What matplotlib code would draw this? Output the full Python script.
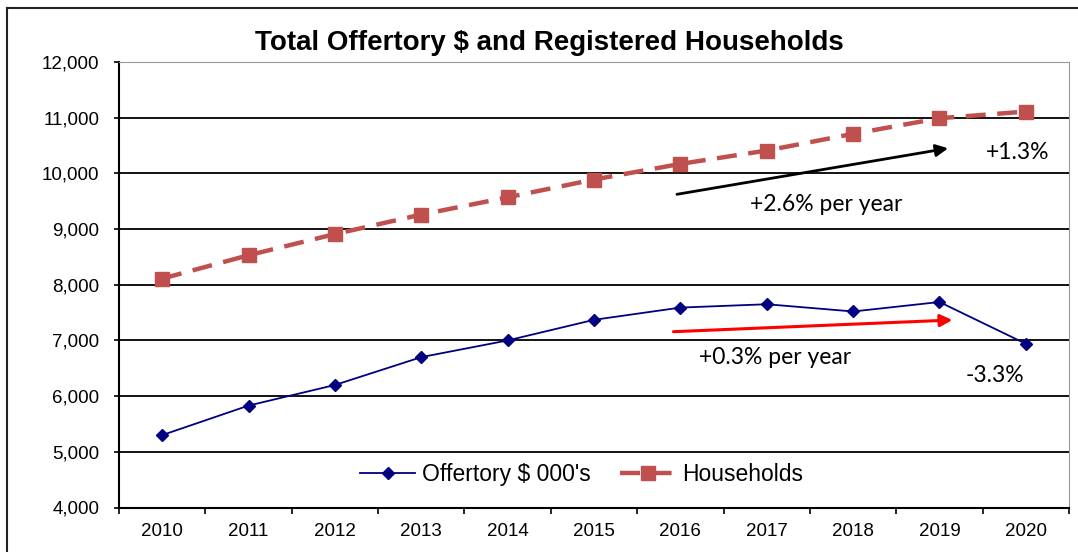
import numpy as np
import matplotlib.pyplot as plt
from matplotlib.lines import Line2D

# data
years = [2010, 2011, 2012, 2013, 2014, 2015, 2016, 2017, 2018, 2019, 2020]
offertory = [5300, 5830, 6200, 6700, 7000, 7370, 7590, 7650, 7520, 7690, 6940]
households = [8110, 8530, 8910, 9260, 9570, 9890, 10170, 10410, 10710, 10990, 11110]
y_ticks = [4000, 5000, 6000, 7000, 8000, 9000, 10000, 11000, 12000]

W, H = 1078, 552
fig = plt.figure(figsize=(W / 100, H / 100), dpi=100)
ax = fig.add_axes([119 / W, 1 - 507.5 / H, (1069 - 119) / W, (507.5 - 62) / H])

# outer chart border (only top and left edges are visible in the crop)
top = 1 - 8 / H
left = 7 / W
fig.add_artist(Line2D([left, 1.0], [top, top], transform=fig.transFigure,
                      color='#222222', linewidth=1.5))
fig.add_artist(Line2D([left, left], [0.0, top], transform=fig.transFigure,
                      color='#222222', linewidth=1.5))

x = np.arange(len(years))
ax.plot(x, offertory, color='#000080', linewidth=1.3, marker='D', markersize=6,
        label="Offertory $ 000's")
ax.plot(x, households, color='#C0504D', linewidth=3.2, dashes=(4.5, 2.6),
        marker='s', markersize=10, label='Households')

ax.set_xlim(-0.5, len(years) - 0.5)
ax.set_ylim(4000, 12000)
ax.set_yticks(y_ticks)
ax.set_yticklabels([f'{v:,}' for v in y_ticks], fontsize=13.5, family='Liberation Sans')
ax.set_xticks(x)
ax.set_xticklabels([str(y) for y in years], fontsize=13.5, family='Liberation Sans')
ax.set_xticks(np.arange(-0.5, len(years), 1), minor=True)
ax.tick_params(axis='x', which='major', length=0, pad=11)
ax.tick_params(axis='x', which='minor', length=4.3, width=1.2, direction='out')
ax.tick_params(axis='y', length=3.6, width=1.2, direction='out', pad=10.5)
ax.grid(axis='y', color='black', linewidth=1.3)
ax.set_axisbelow(True)

for s in ['top', 'right']:
    ax.spines[s].set_color('#999999')
ax.spines['left'].set_linewidth(1.5)
ax.spines['bottom'].set_linewidth(1.5)

fig.text(549 / W, 1 - 43 / H, 'Total Offertory $ and Registered Households',
         fontsize=20, fontweight='bold', family='Liberation Sans',
         ha='center', va='center')

# trend arrows and notes
ax.annotate('', xy=(9.10, 10450), xytext=(5.96, 9624),
            arrowprops=dict(arrowstyle='-|>', color='black', lw=2,
                            mutation_scale=18, shrinkA=0, shrinkB=0))
ax.annotate('', xy=(9.15, 7367), xytext=(5.92, 7157),
            arrowprops=dict(arrowstyle='-|>', color='red', lw=2.2,
                            mutation_scale=18, shrinkA=0, shrinkB=0))
note_font = dict(fontsize=16.5, family='Lato', ha='center', va='baseline')
ax.text(7.69, 9329, '+2.6% per year', **note_font)
ax.text(9.91, 10258, '+1.3%', **note_font)
ax.text(7.10, 6577, '+0.3% per year', **note_font)
ax.text(9.64, 6259, '-3.3%', **note_font)

ax.legend(loc='center', bbox_to_anchor=(0.487, 0.075), ncol=2, frameon=False,
          prop=dict(family='Liberation Sans', size=16.5), handlelength=2.4,
          columnspacing=1.3, handletextpad=0.3)

fig.savefig('out.png', dpi=100)
